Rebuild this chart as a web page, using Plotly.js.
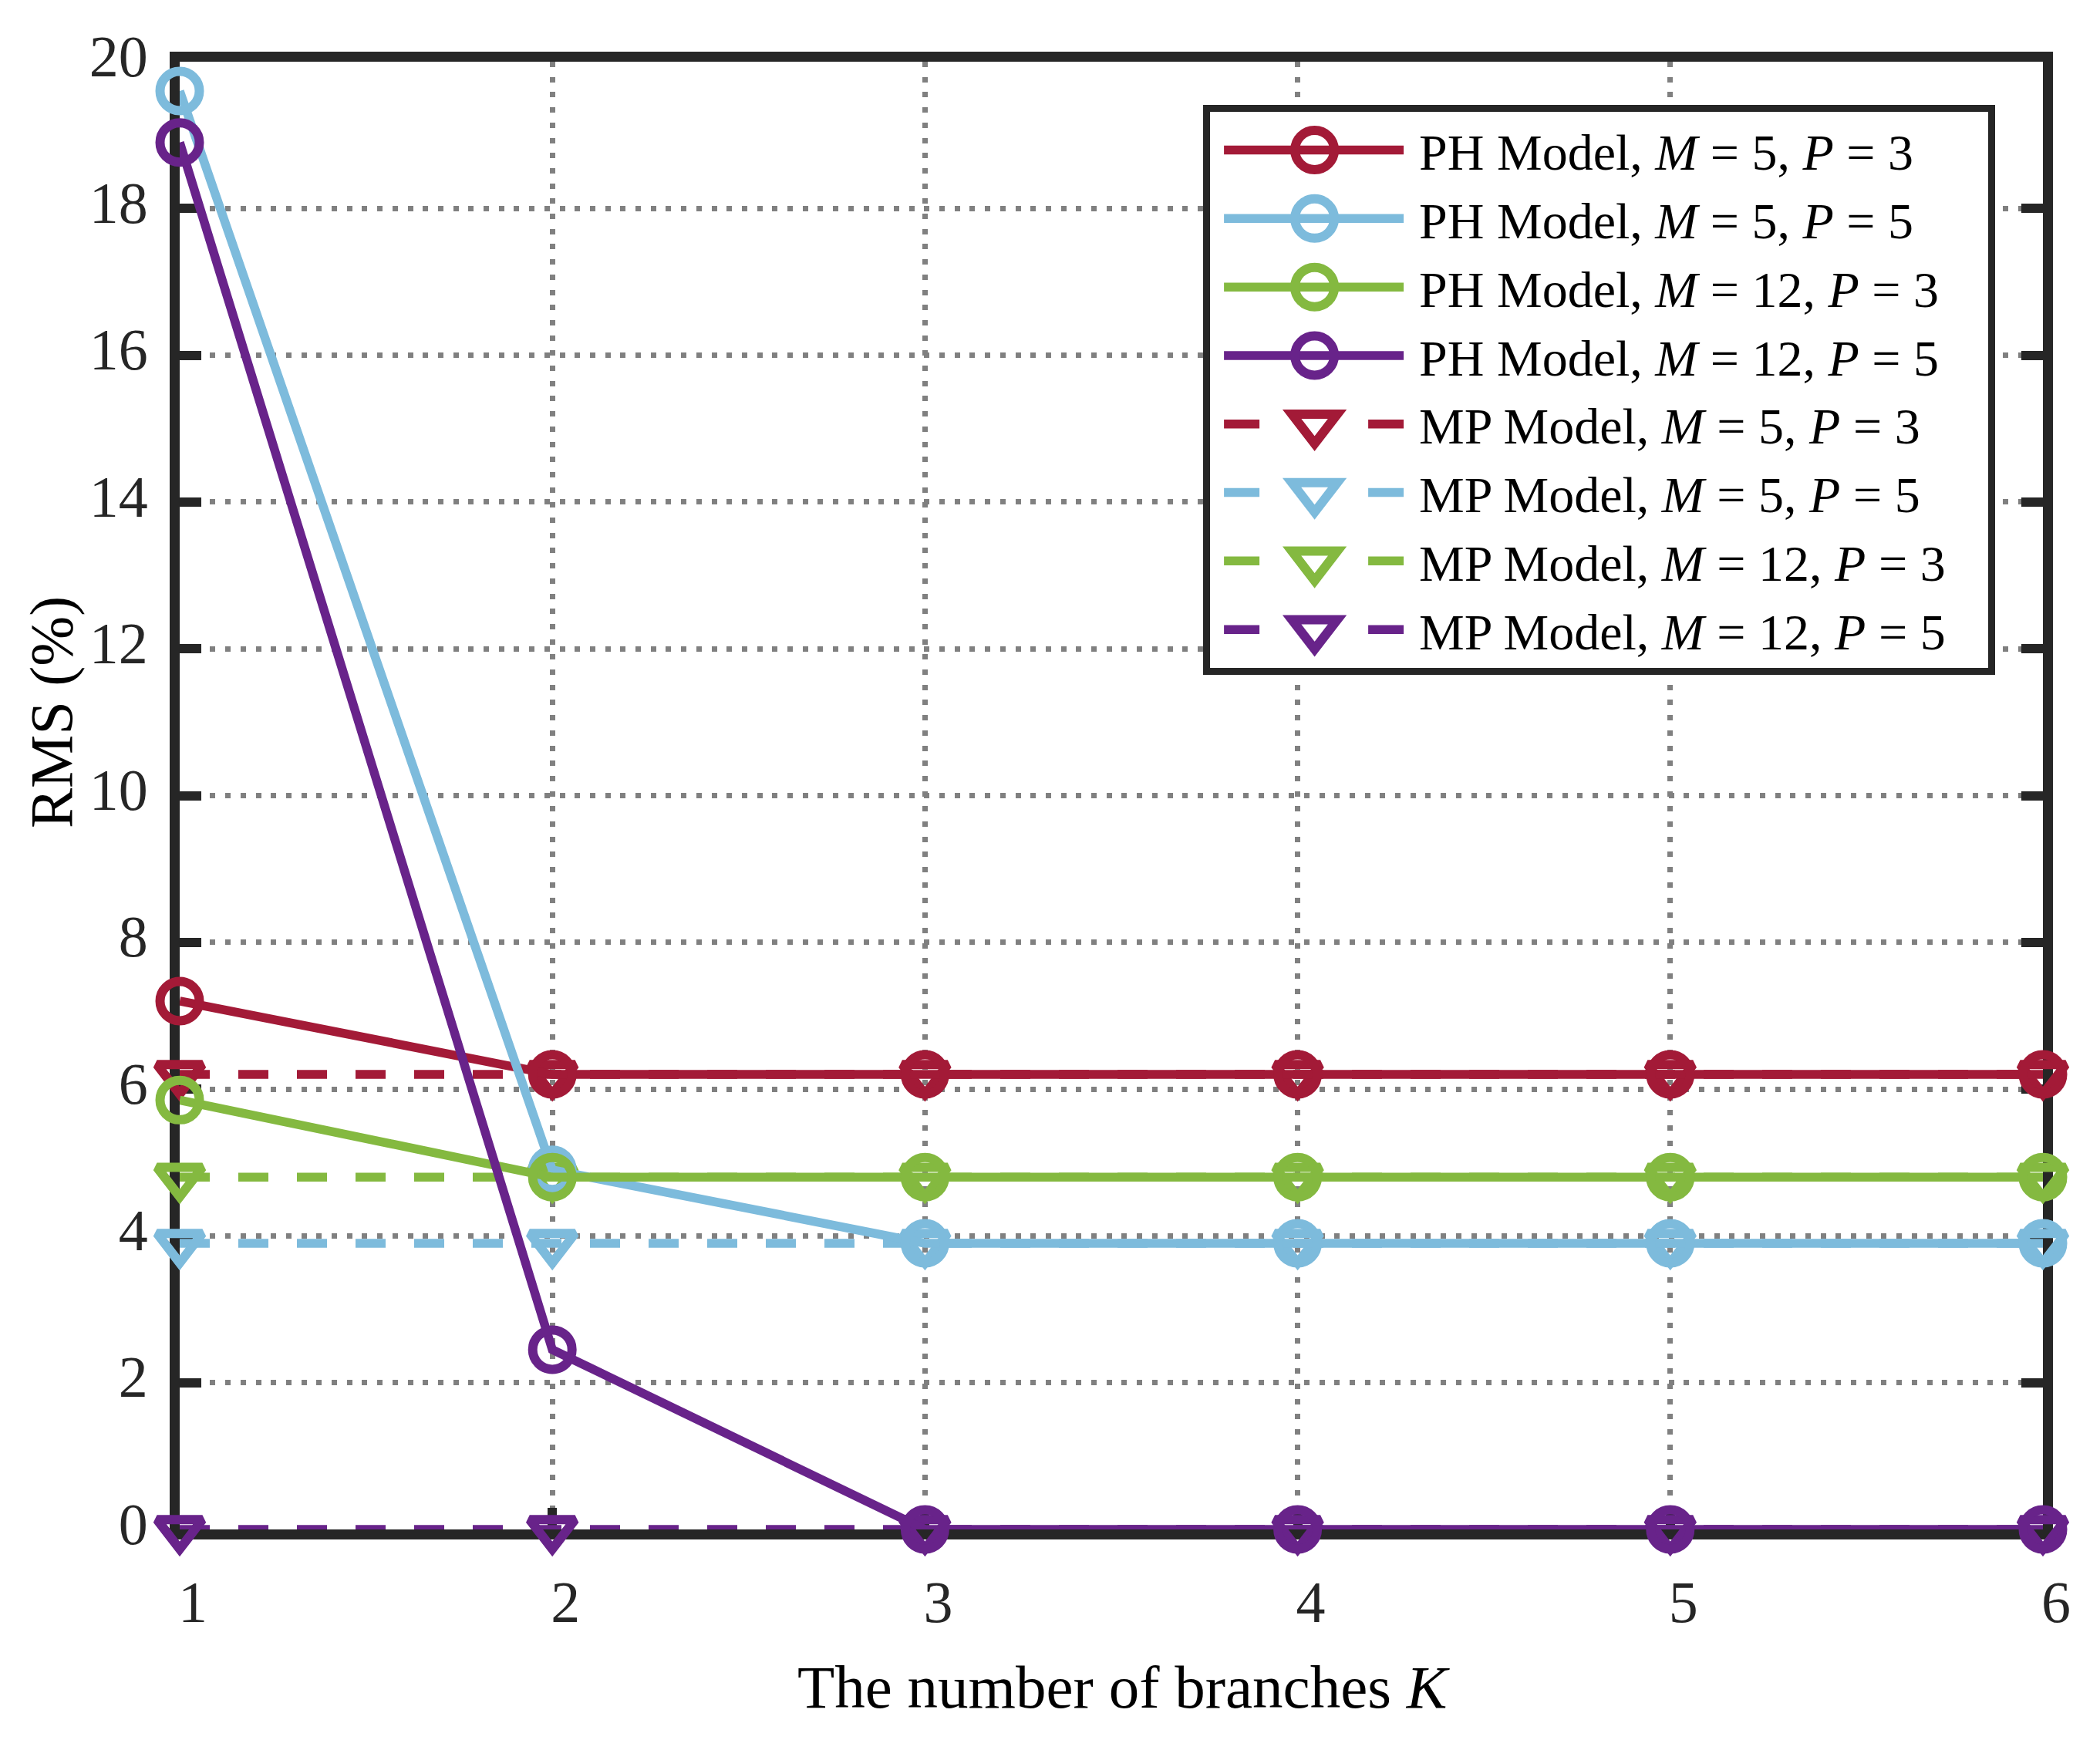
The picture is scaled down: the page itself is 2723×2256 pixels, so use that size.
<!DOCTYPE html>
<html>
<head>
<meta charset="utf-8">
<script src="https://cdn.plot.ly/plotly-3.0.1.min.js"></script>
<style>
  body { margin: 0; background: #fff; }
  #chart { width: 2723px; height: 2256px; }
</style>
</head>
<body>
<div id="chart"></div>
<script>
// branches K
var K = [1, 2, 3, 4, 5, 6];

// RMS (%)
var phM5P3  = [7.2, 6.2, 6.2, 6.2, 6.2, 6.2];
var phM5P5  = [19.6, 4.9, 3.9, 3.9, 3.9, 3.9];
var phM12P3 = [5.85, 4.8, 4.8, 4.8, 4.8, 4.8];
var phM12P5 = [18.9, 2.45, 0, 0, 0, 0];
var mpM5P3  = [6.2, 6.2, 6.2, 6.2, 6.2, 6.2];
var mpM5P5  = [3.9, 3.9, 3.9, 3.9, 3.9, 3.9];
var mpM12P3 = [4.8, 4.8, 4.8, 4.8, 4.8, 4.8];
var mpM12P5 = [0, 0, 0, 0, 0, 0];

var pad = '&nbsp;&nbsp;&nbsp;';
var names = [
  'PH Model, <i>M</i> = 5, <i>P</i> = 3',
  'PH Model, <i>M</i> = 5, <i>P</i> = 5',
  'PH Model, <i>M</i> = 12, <i>P</i> = 3',
  'PH Model, <i>M</i> = 12, <i>P</i> = 5',
  'MP Model, <i>M</i> = 5, <i>P</i> = 3',
  'MP Model, <i>M</i> = 5, <i>P</i> = 5',
  'MP Model, <i>M</i> = 12, <i>P</i> = 3',
  'MP Model, <i>M</i> = 12, <i>P</i> = 5'
];

var red = '#a31a37', blue = '#7dbbdc', green = '#84b940', purple = '#68238a';

var font = 'Liberation Serif, Times New Roman, serif';
var ink = '#262626';
var lw = 11.5, mlw = 12, circSize = 51, triSize = 51;

function ph(y, name, color) {
  return {
    x: K, y: y, name: name + pad, type: 'scatter', mode: 'lines+markers', cliponaxis: false,
    line: {color: color, width: lw},
    marker: {symbol: 'circle-open', size: circSize, color: color, line: {color: color, width: mlw}}
  };
}
function mp(y, name, color) {
  return {
    x: K, y: y, name: name + pad, type: 'scatter', mode: 'lines+markers', cliponaxis: false,
    line: {color: color, width: lw, dash: '39px,37px'},
    marker: {symbol: 'triangle-down-open', size: triSize, color: color, line: {color: color, width: mlw}}
  };
}

var data = [
  mp(mpM5P3, names[4], red),
  mp(mpM5P5, names[5], blue),
  mp(mpM12P3, names[6], green),
  mp(mpM12P5, names[7], purple),
  ph(phM5P3, names[0], red),
  ph(phM5P5, names[1], blue),
  ph(phM12P3, names[2], green),
  ph(phM12P5, names[3], purple)
];
// legend order: PH first
data[0].legendrank = 5; data[1].legendrank = 6; data[2].legendrank = 7; data[3].legendrank = 8;
data[4].legendrank = 1; data[5].legendrank = 2; data[6].legendrank = 3; data[7].legendrank = 4;

var axisCommon = {
  showline: true, linecolor: ink, linewidth: 13, layer: 'below traces',
  ticks: 'inside', ticklen: 28, tickwidth: 12, tickcolor: ink,
  showgrid: true, gridcolor: '#808080', gridwidth: 7, griddash: '7px,12.7px',
  zeroline: false,
  tickfont: {family: font, size: 76, color: ink}
};

var layout = {
  width: 2723, height: 2256,
  paper_bgcolor: '#fff', plot_bgcolor: '#fff',
  margin: {l: 233, r: 74, t: 80, b: 273},
  font: {family: font, color: ink},
  xaxis: Object.assign({}, axisCommon, {
    range: [1, 6], tickvals: K, mirror: true, ticklabelstandoff: 16, ticklabelshift: 17
  }),
  yaxis: Object.assign({}, axisCommon, {
    range: [0, 20], dtick: 2, mirror: 'ticks', ticklabelstandoff: 13, ticklabelshift: -8
  }),
  annotations: [{
    text: 'RMS (%)', xref: 'paper', yref: 'paper', x: -0.0687, y: 0.5565,
    xanchor: 'center', yanchor: 'middle', textangle: -90, showarrow: false,
    font: {family: font, size: 78, color: '#000'}
  }, {
    text: 'The number of branches <i>K</i>', xref: 'paper', yref: 'paper', x: 0.507, y: -0.1077,
    xanchor: 'center', yanchor: 'middle', showarrow: false,
    font: {family: font, size: 79, color: '#000'}
  }],
  legend: {
    x: 0.5493, y: 0.9705, xanchor: 'left', yanchor: 'top',
    bgcolor: '#fff', bordercolor: ink, borderwidth: 9,
    font: {family: font, size: 66, color: '#000'},
    itemwidth: 261, tracegroupgap: 0
  },
  showlegend: true
};

// marker outlines at full size for the legend (plotly caps legend symbols)
function circlePath(size) {
  var r = size / 2;
  return 'M' + r + ',0A' + r + ',' + r + ' 0 1,1 0,-' + r + 'A' + r + ',' + r + ' 0 0,1 ' + r + ',0Z';
}
function triDownPath(size) {
  var r = size / 2, rt = r * 2 / Math.sqrt(3), r2 = r / 2;
  return 'M-' + rt + ',-' + r2 + 'H' + rt + 'L0,' + r + 'Z';
}

Plotly.newPlot('chart', data, layout, {staticPlot: true}).then(function (gd) {
  gd.querySelectorAll('.legend .legendpoints path.scatterpts').forEach(function (p) {
    var d = p.getAttribute('d') || '';
    p.setAttribute('d', d.indexOf('A') >= 0 ? circlePath(circSize) : triDownPath(triSize));
    p.style.strokeWidth = mlw + 'px';
  });
  gd.querySelectorAll('.legend .legendlines path').forEach(function (p) {
    p.style.strokeWidth = lw + 'px';
    var d = p.getAttribute('d') || '';
    var m = d.match(/^M([-\d.]+),([-\d.]+)h([-\d.]+)$/);
    if (m) p.setAttribute('d', 'M18,' + m[2] + 'h233');
    if (p.style.strokeDasharray && p.style.strokeDasharray !== 'none') {
      p.style.strokeDasharray = '46px,141px,46px';
    }
  });
});
</script>
</body>
</html>
